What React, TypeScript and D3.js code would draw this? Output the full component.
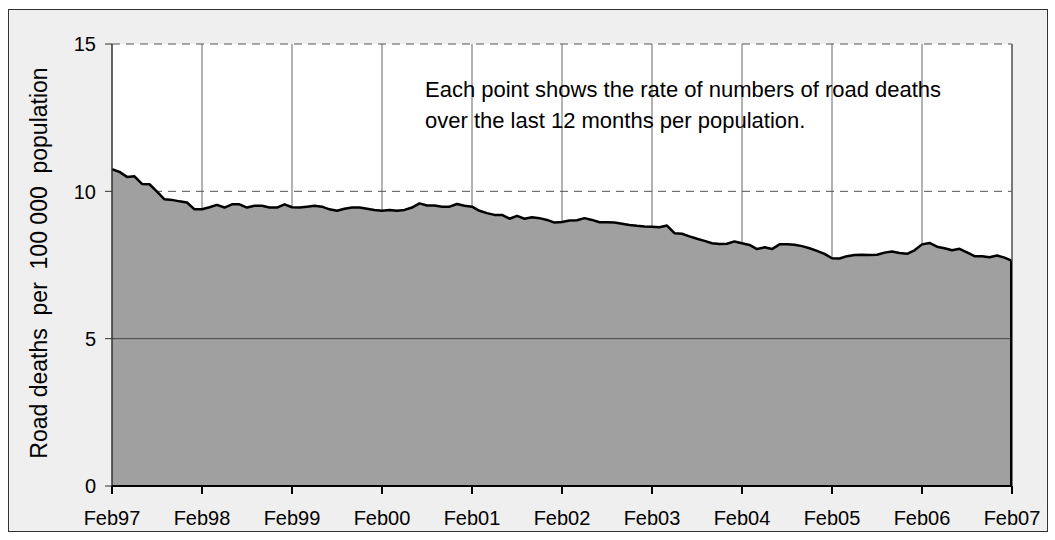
import * as d3 from 'd3';
import React from 'react';

// Monthly values, Feb97 .. Feb07 (121 points), road deaths per 100 000 population
const rates: number[] = [
    10.75, 10.66, 10.49, 10.51, 10.25, 10.24, 9.99, 9.73, 9.71, 9.66, 9.62, 9.39,
    9.39, 9.46, 9.54, 9.45, 9.56, 9.56, 9.45, 9.51, 9.51, 9.45, 9.45, 9.56,
    9.46, 9.45, 9.48, 9.51, 9.48, 9.39, 9.34, 9.41, 9.45, 9.45, 9.41, 9.37,
    9.34, 9.37, 9.34, 9.37, 9.45, 9.59, 9.52, 9.52, 9.48, 9.48, 9.57, 9.51,
    9.48, 9.34, 9.26, 9.2, 9.2, 9.07, 9.17, 9.07, 9.12, 9.09, 9.03, 8.94,
    8.96, 9.01, 9.02, 9.09, 9.03, 8.95, 8.95, 8.94, 8.9, 8.86, 8.83, 8.81,
    8.8, 8.78, 8.84, 8.58, 8.56, 8.47, 8.39, 8.32, 8.24, 8.21, 8.22, 8.3,
    8.24, 8.18, 8.04, 8.1, 8.04, 8.2, 8.2, 8.19, 8.14, 8.07, 7.98, 7.88,
    7.73, 7.72, 7.8, 7.84, 7.85, 7.84, 7.85, 7.92, 7.96, 7.91, 7.88, 8.0,
    8.2, 8.25, 8.12, 8.07, 8.0, 8.05, 7.93, 7.8, 7.8, 7.76, 7.82, 7.75,
    7.64,
];
const yTicks: number[] = [0, 5, 10, 15];
const xTickLabels: string[] = ['Feb97', 'Feb98', 'Feb99', 'Feb00', 'Feb01', 'Feb02', 'Feb03', 'Feb04', 'Feb05', 'Feb06', 'Feb07'];
const yTitle = 'Road deaths  per  100 000  population';
const noteLines: string[] = [
    'Each point shows the rate of numbers of road deaths',
    'over the last 12 months per population.',
];

const App = (): React.ReactElement => {
    const width = 1055;
    const height = 540;
    const left = 112;
    const right = 1012;
    const top = 44;
    const bottom = 486;
    const font = 'Arial, "Liberation Sans", sans-serif';

    // month index -> x
    const x = d3.scaleLinear().domain([0, rates.length - 1]).range([left, right]);
    const y = d3.scaleLinear().domain([0, 15]).range([bottom, top]);

    const area = d3
        .area<number>()
        .x((_, i) => x(i))
        .y0(y(0))
        .y1((d) => y(d));
    const line = d3
        .line<number>()
        .x((_, i) => x(i))
        .y((d) => y(d));

    const yearTicks = xTickLabels.map((_, i) => i * 12);

    return (
        <svg
            width={width}
            height={height}
            style={{ position: 'absolute', left: 0, top: 0, fontFamily: font }}
        >
            <rect x={0} y={0} width={width} height={height} fill="#ffffff" />
            <rect x={8.5} y={9.5} width={1039} height={522} fill="#efefef" stroke="#333" strokeWidth={1} />

            {/* plot area */}
            <rect x={left} y={top} width={right - left} height={bottom - top} fill="#ffffff" />

            {/* vertical gridlines */}
            {yearTicks.slice(1).map((m) => (
                <line key={'v' + m} x1={x(m)} x2={x(m)} y1={top} y2={bottom} stroke="#666" strokeWidth={1} />
            ))}

            {/* dashed horizontal gridlines */}
            {[10, 15].map((v) => (
                <line
                    key={'h' + v}
                    x1={left}
                    x2={right}
                    y1={y(v)}
                    y2={y(v)}
                    stroke="#555"
                    strokeWidth={1}
                    strokeDasharray="8,6"
                />
            ))}

            {/* area */}
            <path d={area(rates) ?? ''} fill="#a0a0a0" />
            <line x1={left} x2={right} y1={y(5)} y2={y(5)} stroke="#444" strokeWidth={1} />
            <path d={line(rates) ?? ''} fill="none" stroke="#000" strokeWidth={2.5} strokeLinejoin="round" />

            {/* right border of plot */}
            <line x1={right} x2={right} y1={top} y2={bottom} stroke="#666" strokeWidth={1.5} />
            <line x1={right - 1} x2={right - 1} y1={y(rates[rates.length - 1])} y2={bottom} stroke="#000" strokeWidth={2} />

            {/* y axis */}
            <line x1={left} x2={left} y1={top} y2={bottom} stroke="#333" strokeWidth={1.5} />
            {yTicks.map((v) => (
                <g key={'yt' + v}>
                    <line x1={left - 7} x2={left} y1={y(v)} y2={y(v)} stroke="#333" strokeWidth={1} />
                    <text x={96} y={y(v)} dy="0.36em" textAnchor="end" fontSize={20} fill="#000">
                        {v}
                    </text>
                </g>
            ))}

            {/* x axis */}
            <line x1={left} x2={right} y1={bottom} y2={bottom} stroke="#000" strokeWidth={2} />
            {yearTicks.map((m, i) => (
                <g key={'xt' + m}>
                    <line x1={x(m)} x2={x(m)} y1={bottom} y2={bottom + 8} stroke="#000" strokeWidth={2} />
                    <text x={x(m)} y={525} textAnchor="middle" fontSize={20} fill="#000">
                        {xTickLabels[i]}
                    </text>
                </g>
            ))}

            {/* y title */}
            <text
                transform={`translate(47, ${(top + bottom) / 2 - 2}) rotate(-90)`}
                textAnchor="middle"
                fontSize={23}
                fill="#000"
                style={{ whiteSpace: 'pre' }}
            >
                {yTitle}
            </text>

            {/* note */}
            {noteLines.map((t, i) => (
                <text key={'n' + i} x={425} y={97 + i * 31} fontSize={22} fill="#000">
                    {t}
                </text>
            ))}
        </svg>
    );
};

export default App;
